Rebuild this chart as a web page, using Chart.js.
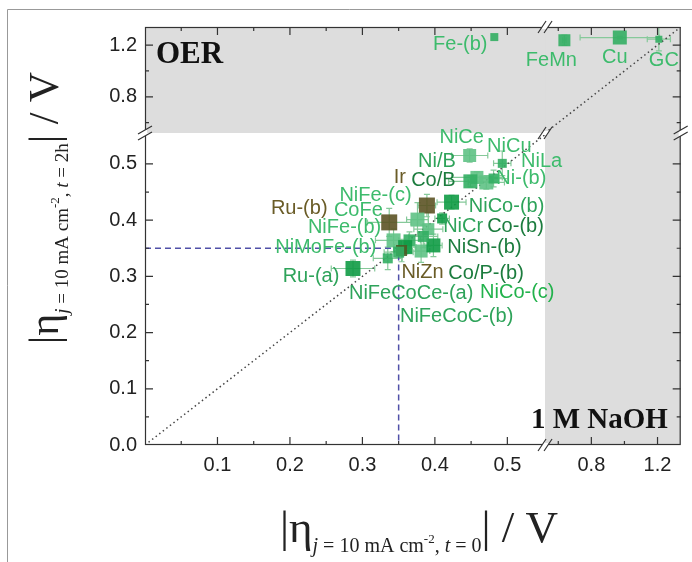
<!DOCTYPE html>
<html>
<head>
<meta charset="utf-8">
<script src="https://cdn.jsdelivr.net/npm/chart.js@4.4.0/dist/chart.umd.min.js"></script>
<style>
  html, body { margin: 0; padding: 0; background: #fff; }
  #wrap { width: 692px; height: 562px; position: relative; }
</style>
</head>
<body>
<div id="wrap"><canvas id="chart" width="692" height="562"></canvas></div>
<script>
// ---- data ----
const materials = ['NiCe', 'NiCu', 'Ni/B', 'Co/B', 'Ni-(b)', 'NiLa', 'NiCo-(b)', 'Ir', 'NiFe-(c)', 'NiCr',
  'Ru-(b)', 'CoFe', 'NiFe-(b)', 'Co-(b)', 'NiFeCoCe-(a)', 'NiZn', 'Co/P-(b)', 'NiSn-(b)', 'NiMoFe-(b)', 'Ru-(a)',
  'NiCo-(c)', 'NiFeCoC-(b)', 'Fe-(b)', 'FeMn', 'Cu', 'GC'];
// |eta| at t = 0 (x) and after 2 h (y), in V
const etaT0 = [0.448, 0.493, 0.458, 0.449, 0.471, 0.481, 0.423, 0.389, 0.376, 0.410,
  0.337, 0.391, 0.343, 0.365, 0.359, 0.354, 0.381, 0.398, 0.335, 0.287,
  0.384, 0.350, 0.482, 0.637, 0.972, 1.208];
const etaT2h = [0.515, 0.501, 0.476, 0.469, 0.467, 0.474, 0.432, 0.426, 0.401, 0.403,
  0.396, 0.384, 0.364, 0.364, 0.352, 0.346, 0.345, 0.355, 0.332, 0.314,
  0.371, 0.343, 1.262, 1.238, 1.258, 1.246];
const errT0 = [0.025, 0.012, 0.035, 0.03, 0.025, 0.02, 0.02, 0.012, 0.015, 0.01,
  0.03, 0.02, 0.025, 0.015, 0.015, 0.01, 0.012, 0.012, 0.02, 0.03,
  0.02, 0.02, 0, 0.01, 0.24, 0.07];
const errT2h = [0.012, 0.022, 0.01, 0.01, 0.012, 0.015, 0.012, 0.02, 0.03, 0.01,
  0.025, 0.03, 0.02, 0.015, 0.012, 0.02, 0.02, 0.02, 0.02, 0.015,
  0.02, 0.01, 0, 0.04, 0.01, 0.09];
const xTickLabels = ['0.1', '0.2', '0.3', '0.4', '0.5', '0.8', '1.2'];
const yTickLabels = ['0.0', '0.1', '0.2', '0.3', '0.4', '0.5', '0.8', '1.2'];
const benchmark = 0.35;

// ---- styling ----
const G1 = '#0f9b45', G2 = '#33ae63', G3 = '#5fc285', OL = '#5c5325';
const markerColor = [G3, G2, G3, G2, G3, G2, G1, OL, G3, G1, OL, G3, G3, G2, G1, '#4f5a25', G3, G1, G2, G1,
  G2, G2, G2, G2, G2, G2];
const markerSide = [13, 9, 13, 14, 14, 10, 15, 16, 14, 10, 16, 12, 14, 12, 14, 11, 13, 14, 10, 15, 11, 11, 8, 12, 14, 7];
const LG = '#3dbb6c', MG = '#2ea35a', DG = '#1c7c3e', OT = '#6a5c27';
const labelColor = [LG, LG, MG, DG, LG, LG, MG, OT, LG, MG, OT, LG, LG, DG, MG, OT, DG, DG, LG, MG,
  '#22b24c', MG, LG, LG, LG, LG];
// label centre relative to its marker, px
const labelOffset = [[-8, -18], [7, -17], [-40, -16], [-37, -1], [35, -4], [48, -17], [55, 4], [-27, -28], [-42, -24], [21, 8],
  [-90, -14], [-70, -19], [-49, -13], [106, -14], [6, 46], [21, 22], [65, 22], [51, 2], [-62, -11], [-42, 8],
  [94, 56], [58, 64], [-34, 7], [-13, 20], [-5, 20], [5, 21]];

const LOW_X_MAX = 0.552, LOW_Y_MAX = 0.555, HIGH_MIN = 0.52, HIGH_MAX = 1.34;
const SANS = "'Liberation Sans', Arial, sans-serif";
const SERIF = "'Liberation Serif', 'Times New Roman', serif";

function xAxisOf(i) { return etaT0[i] > LOW_X_MAX ? 'xHigh' : 'xLow'; }
function yAxisOf(i) { return etaT2h[i] > LOW_Y_MAX ? 'yHigh' : 'yLow'; }

// one scatter dataset per panel of the broken axes
const groups = {};
materials.forEach((m, i) => {
  const key = xAxisOf(i) + '|' + yAxisOf(i);
  if (!groups[key]) {
    groups[key] = {
      type: 'scatter', xAxisID: xAxisOf(i), yAxisID: yAxisOf(i),
      data: [], pointBackgroundColor: [], pointRadius: [],
      pointStyle: 'rect', pointBorderWidth: 0, showLine: false
    };
  }
  const g = groups[key];
  g.data.push({ x: etaT0[i], y: etaT2h[i] });
  g.pointBackgroundColor.push(markerColor[i] + 'e6');
  g.pointRadius.push(markerSide[i] / Math.SQRT2);
});

const lineDefaults = { type: 'scatter', showLine: true, pointRadius: 0, fill: false };
const datasets = Object.values(groups).concat([
  Object.assign({}, lineDefaults, {
    xAxisID: 'xLow', yAxisID: 'yLow', borderColor: '#5050a8', borderWidth: 1.5, borderDash: [6, 4],
    data: [{ x: 0, y: benchmark }, { x: benchmark, y: benchmark }, { x: benchmark, y: 0 }]
  }),
  Object.assign({}, lineDefaults, {
    xAxisID: 'xLow', yAxisID: 'yLow', borderColor: '#444', borderWidth: 1.5, borderDash: [1.5, 3],
    data: [{ x: 0, y: 0 }, { x: LOW_X_MAX, y: LOW_X_MAX }]
  }),
  Object.assign({}, lineDefaults, {
    xAxisID: 'xHigh', yAxisID: 'yHigh', borderColor: '#444', borderWidth: 1.5, borderDash: [1.5, 3],
    data: [{ x: HIGH_MIN, y: HIGH_MIN }, { x: HIGH_MAX, y: HIGH_MAX }]
  })
]);

function axis(pos, min, max, step, weight, list) {
  const horizontal = pos === 'bottom';
  return {
    type: 'linear', position: pos, min, max,
    stack: horizontal ? 'x' : 'y', stackWeight: weight,
    grid: { display: false, drawTicks: false },
    border: { display: false },
    afterBuildTicks(scale) {
      // fixed ticks every `step`, labelled only where the picture has a label
      const ticks = [];
      for (let k = Math.ceil(min / step - 1e-9); k * step <= max + 1e-9; k++) {
        ticks.push({ value: Math.round(k * step * 1000) / 1000 });
      }
      scale.ticks = ticks;
    },
    ticks: {
      autoSkip: false, maxRotation: 0,
      color: '#222', font: { family: SANS, size: 20 },
      padding: 8,
      callback(v) {
        const t = Number(v).toFixed(1);
        return Math.abs(v * 10 - Math.round(v * 10)) < 1e-6 && list.includes(t) ? t : '';
      }
    },
    afterFit(s) {
      if (horizontal) s.height = 117; else s.width = 145;
      s.paddingLeft = s.paddingRight = s.paddingTop = s.paddingBottom = 0;
    }
  };
}

function richText(ctx, parts, x, y) {
  let w = 0;
  parts.forEach(p => { ctx.font = p.f; w += ctx.measureText(p.t).width; });
  let cx = x - w / 2;
  parts.forEach(p => {
    ctx.font = p.f;
    ctx.fillText(p.t, cx, y + p.dy);
    cx += ctx.measureText(p.t).width;
  });
}

function titleParts(tail, big, small) {
  return [
    { t: '|η', f: big + 'px ' + SERIF, dy: 0 },
    { t: 'j', f: 'italic ' + small + 'px ' + SERIF, dy: 10 },
    { t: ' = 10 mA cm', f: small + 'px ' + SERIF, dy: 10 },
    { t: '-2', f: '13px ' + SERIF, dy: 1 },
    { t: ', ', f: small + 'px ' + SERIF, dy: 10 },
    { t: 't', f: 'italic ' + small + 'px ' + SERIF, dy: 10 },
    { t: ' = ' + tail, f: small + 'px ' + SERIF, dy: 10 },
    { t: '| / V', f: big + 'px ' + SERIF, dy: 0 }
  ];
}

function breakMark(ctx, x, y, horizontalAxis, bg) {
  ctx.save();
  ctx.fillStyle = bg;
  if (horizontalAxis) ctx.fillRect(x - 3, y - 2, 6, 4); else ctx.fillRect(x - 2, y - 3, 4, 6);
  ctx.strokeStyle = '#333';
  ctx.lineWidth = 1.2;
  ctx.beginPath();
  for (const d of [-3, 3]) {
    if (horizontalAxis) {
      ctx.moveTo(x + d - 4, y + 6); ctx.lineTo(x + d + 4, y - 6);
    } else {
      ctx.moveTo(x - 7, y + d + 4); ctx.lineTo(x + 7, y + d - 4);
    }
  }
  ctx.stroke();
  ctx.restore();
}

const decor = {
  id: 'decor',
  beforeDatasetsDraw(chart) {
    const { ctx, chartArea: a, scales: s } = chart;
    ctx.save();
    ctx.fillStyle = '#dddddd';
    ctx.fillRect(a.left, s.yHigh.top, a.right - a.left, s.yHigh.bottom - s.yHigh.top);
    ctx.fillRect(s.xHigh.left, a.top, s.xHigh.right - s.xHigh.left, a.bottom - a.top);
    // error bars
    ctx.strokeStyle = '#86c99a';
    ctx.lineWidth = 1.2;
    materials.forEach((m, i) => {
      const xs = s[xAxisOf(i)], ys = s[yAxisOf(i)];
      const px = xs.getPixelForValue(etaT0[i]), py = ys.getPixelForValue(etaT2h[i]);
      ctx.beginPath();
      if (errT0[i]) {
        const x1 = xs.getPixelForValue(etaT0[i] - errT0[i]), x2 = xs.getPixelForValue(etaT0[i] + errT0[i]);
        ctx.moveTo(x1, py); ctx.lineTo(x2, py);
        ctx.moveTo(x1, py - 3); ctx.lineTo(x1, py + 3);
        ctx.moveTo(x2, py - 3); ctx.lineTo(x2, py + 3);
      }
      if (errT2h[i]) {
        const y1 = ys.getPixelForValue(etaT2h[i] - errT2h[i]), y2 = ys.getPixelForValue(etaT2h[i] + errT2h[i]);
        ctx.moveTo(px, y1); ctx.lineTo(px, y2);
        ctx.moveTo(px - 3, y1); ctx.lineTo(px + 3, y1);
        ctx.moveTo(px - 3, y2); ctx.lineTo(px + 3, y2);
      }
      ctx.stroke();
    });
    ctx.restore();
  },
  afterDatasetsDraw(chart) {
    const { ctx, chartArea: a, scales: s } = chart;
    ctx.save();
    // frame
    ctx.strokeStyle = '#333';
    ctx.lineWidth = 1.2;
    ctx.strokeRect(a.left + 0.5, a.top + 0.5, a.right - a.left - 1, a.bottom - a.top - 1);
    // inward ticks on all four sides
    ctx.beginPath();
    ['xLow', 'xHigh'].forEach(id => {
      const sc = s[id];
      sc.ticks.forEach(t => {
        const p = sc.getPixelForValue(t.value);
        if (p < sc.left + 4 || p > sc.right - 4) return;
        const len = t.label ? 8 : 4;
        ctx.moveTo(p, a.bottom); ctx.lineTo(p, a.bottom - len);
        ctx.moveTo(p, a.top); ctx.lineTo(p, a.top + len);
      });
    });
    ['yLow', 'yHigh'].forEach(id => {
      const sc = s[id];
      sc.ticks.forEach(t => {
        const p = sc.getPixelForValue(t.value);
        if (p < sc.top + 4 || p > sc.bottom - 4) return;
        const len = t.label ? 8 : 4;
        ctx.moveTo(a.left, p); ctx.lineTo(a.left + len, p);
        ctx.moveTo(a.right, p); ctx.lineTo(a.right - len, p);
      });
    });
    ctx.stroke();
    // axis breaks
    const bx = s.xHigh.left, by = s.yHigh.bottom;
    breakMark(ctx, bx, a.bottom, true, '#fff');
    breakMark(ctx, bx, a.top, true, '#fff');
    breakMark(ctx, a.left, by, false, '#fff');
    breakMark(ctx, a.right, by, false, '#fff');
    breakMark(ctx, bx, by, true, '#fff');

    // point labels
    ctx.font = '20px ' + SANS;
    ctx.textAlign = 'center';
    ctx.textBaseline = 'middle';
    materials.forEach((m, i) => {
      const px = s[xAxisOf(i)].getPixelForValue(etaT0[i]);
      const py = s[yAxisOf(i)].getPixelForValue(etaT2h[i]);
      ctx.fillStyle = labelColor[i];
      ctx.fillText(m, px + labelOffset[i][0], py + labelOffset[i][1]);
    });

    // panel texts
    ctx.fillStyle = '#111';
    ctx.textAlign = 'left';
    ctx.textBaseline = 'alphabetic';
    ctx.font = 'bold 31px ' + SERIF;
    ctx.fillText('OER', a.left + 11, a.top + 36);
    ctx.font = 'bold 29px ' + SERIF;
    ctx.fillText('1 M NaOH', 531, a.bottom - 17);

    // axis titles
    ctx.fillStyle = '#222';
    richText(ctx, titleParts('0', 45, 20), 419, 542);
    ctx.save();
    ctx.translate(58, 208);
    ctx.rotate(-Math.PI / 2);
    richText(ctx, titleParts('2h', 42, 19), 0, 0);
    ctx.restore();

    // outer figure frame
    ctx.strokeStyle = '#999';
    ctx.lineWidth = 1;
    ctx.beginPath();
    ctx.moveTo(7.5, 562); ctx.lineTo(7.5, 9.5); ctx.lineTo(692, 9.5);
    ctx.stroke();
    ctx.restore();
  }
};

new Chart(document.getElementById('chart'), {
  type: 'scatter',
  data: { datasets },
  options: {
    responsive: false,
    animation: false,
    events: [],
    layout: { padding: { left: 0, right: 6, top: 27, bottom: 0 } },
    plugins: { legend: { display: false }, tooltip: { enabled: false } },
    scales: {
      xLow: axis('bottom', 0, LOW_X_MAX, 0.05, 404, xTickLabels),
      xHigh: axis('bottom', HIGH_MIN, HIGH_MAX, 0.2, 137, xTickLabels),
      yLow: axis('left', 0, LOW_Y_MAX, 0.05, 312, yTickLabels),
      yHigh: axis('left', HIGH_MIN, HIGH_MAX, 0.2, 106, yTickLabels)
    }
  },
  plugins: [decor]
});
</script>
</body>
</html>
